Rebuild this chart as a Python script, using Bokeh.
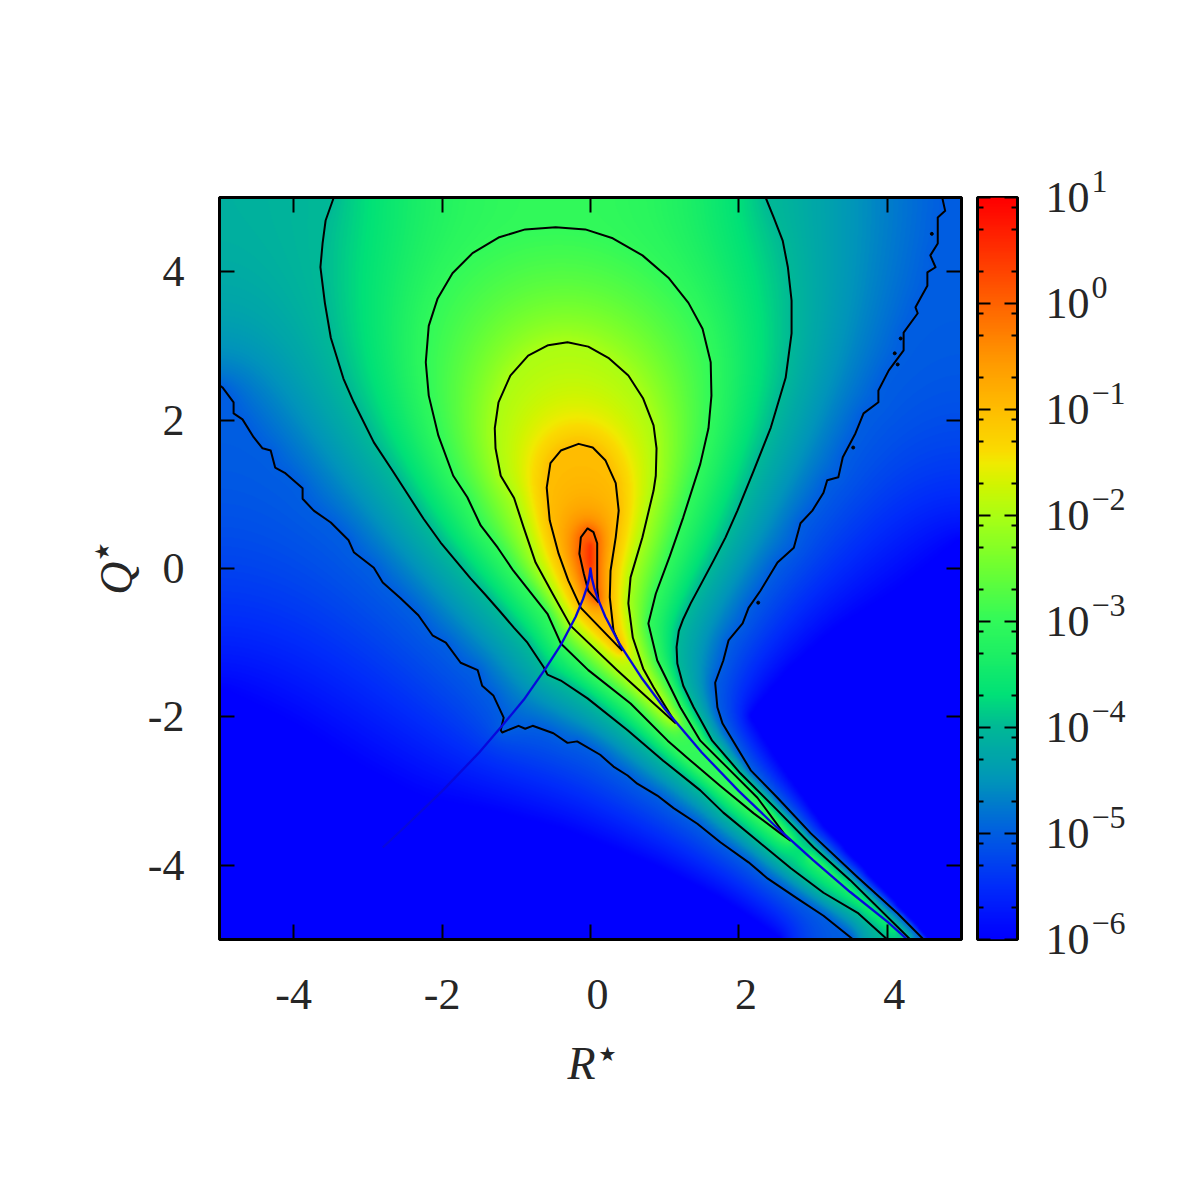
import numpy as np
from bokeh.plotting import figure
from bokeh.layouts import row
from bokeh.models import (LinearAxis, FixedTicker, Range1d, Label, LogColorMapper)
from bokeh.embed import file_html
from bokeh.resources import INLINE

# ---- values: (R*, Q*) along each iso-level curve -----------------------------
level_m5_left_R = [-5.00,-4.96,-4.81,-4.81,-4.69,-4.54,-4.42,-4.31,-4.25,-4.12,-3.88,-3.88,-3.73,-3.50,-3.26,-3.19,-2.92,-2.80,-2.56,-2.32,-2.13,-1.95,-1.75,-1.52,-1.46,-1.31,-1.17,-1.21,-1.19,-0.97,-0.88,-0.78,-0.50,-0.31,-0.18,0.13,0.31,0.50,0.63,0.90,1.12,1.44,1.75,2.13,2.39,2.79,3.14,3.54]
level_m5_left_Q = [2.47,2.44,2.24,2.09,2.01,1.77,1.62,1.59,1.36,1.29,1.08,0.94,0.78,0.62,0.38,0.22,0.01,-0.19,-0.40,-0.63,-0.90,-1.00,-1.27,-1.37,-1.58,-1.71,-2.01,-2.18,-2.21,-2.12,-2.16,-2.12,-2.22,-2.35,-2.33,-2.51,-2.67,-2.79,-2.90,-3.06,-3.23,-3.44,-3.69,-3.96,-4.18,-4.45,-4.68,-5.00]
level_m5_right_R = [4.74,4.78,4.68,4.68,4.68,4.58,4.65,4.54,4.54,4.45,4.38,4.41,4.22,4.22,4.02,3.88,3.88,3.68,3.57,3.40,3.34,3.19,3.14,2.99,2.83,2.74,2.52,2.29,2.13,2.05,1.86,1.79,1.68,1.71,1.78,2.16,2.52,2.97,3.60,4.14,4.49]
level_m5_right_Q = [5.00,4.82,4.73,4.51,4.38,4.22,4.06,3.99,3.81,3.65,3.52,3.44,3.18,2.94,2.67,2.40,2.24,2.09,1.82,1.50,1.23,1.19,1.02,0.78,0.61,0.28,0.08,-0.30,-0.53,-0.74,-0.97,-1.24,-1.54,-1.87,-2.09,-2.72,-3.09,-3.57,-4.16,-4.65,-5.00]
level_m4_left_R = [-3.46,-3.57,-3.61,-3.64,-3.58,-3.50,-3.33,-3.19,-2.92,-2.67,-2.47,-2.25,-2.02,-1.82,-1.62,-1.42,-1.21,-1.03,-0.85,-0.63,-0.58,-0.40,-0.04,0.50,0.98,1.48,1.79,2.25,2.70,3.14,3.60,4.00]
level_m4_left_Q = [5.00,4.69,4.39,4.06,3.58,3.11,2.56,2.24,1.70,1.32,1.01,0.67,0.35,0.11,-0.13,-0.35,-0.59,-0.80,-1.00,-1.33,-1.43,-1.51,-1.75,-2.18,-2.59,-2.99,-3.29,-3.67,-4.04,-4.37,-4.64,-5.00]
level_m4_right_R = [2.36,2.47,2.59,2.66,2.71,2.71,2.63,2.43,2.20,1.98,1.82,1.66,1.50,1.35,1.25,1.19,1.16,1.17,1.25,1.39,1.64,2.02,2.52,3.01,3.50,4.31]
level_m4_right_Q = [5.00,4.73,4.42,4.06,3.61,3.17,2.57,1.90,1.32,0.78,0.42,0.11,-0.19,-0.47,-0.68,-0.84,-1.06,-1.28,-1.58,-1.87,-2.32,-2.76,-3.26,-3.76,-4.20,-5.00]
level_m3_R = [2.70,2.56,2.20,1.75,1.35,1.04,0.54,-0.03,-0.40,-0.58,-1.04,-1.25,-1.48,-1.66,-1.85,-2.05,-2.18,-2.22,-2.18,-2.06,-1.86,-1.59,-1.24,-0.88,-0.47,-0.07,0.30,0.70,1.05,1.32,1.51,1.62,1.63,1.59,1.48,1.25,1.07,0.88,0.78,0.90,1.21,1.48,1.79,2.25,2.65,2.70]
level_m3_Q = [-3.67,-3.57,-3.30,-2.93,-2.59,-2.32,-1.82,-1.37,-1.01,-0.61,-0.03,0.28,0.58,0.96,1.25,1.79,2.33,2.78,3.27,3.64,3.98,4.25,4.46,4.57,4.60,4.57,4.45,4.22,3.92,3.58,3.23,2.78,2.33,1.89,1.41,0.69,0.17,-0.34,-0.74,-1.24,-1.87,-2.32,-2.63,-3.09,-3.63,-3.67]
level_m2_R = [1.15,0.36,-0.27,-0.51,-0.74,-0.90,-1.03,-1.21,-1.28,-1.29,-1.24,-1.08,-0.84,-0.57,-0.31,-0.03,0.24,0.51,0.71,0.85,0.89,0.88,0.85,0.70,0.54,0.51,0.57,0.71,0.85,1.15]
level_m2_Q = [-2.09,-1.37,-0.77,-0.34,0.08,0.55,0.95,1.25,1.62,1.89,2.24,2.60,2.87,3.01,3.05,2.99,2.84,2.60,2.29,1.93,1.62,1.25,1.05,0.42,-0.12,-0.47,-0.93,-1.35,-1.60,-2.09]
level_m1_R = [0.43,-0.13,-0.30,-0.43,-0.55,-0.59,-0.54,-0.40,-0.16,0.03,0.20,0.34,0.38,0.34,0.27,0.26,0.31,0.43]
level_m1_Q = [-1.11,-0.53,-0.16,0.20,0.65,1.09,1.42,1.59,1.68,1.63,1.46,1.15,0.78,0.42,-0.03,-0.39,-0.84,-1.11]
level_0_R = [0.11,-0.03,-0.09,-0.15,-0.13,-0.04,0.04,0.09,0.09,0.09,0.11]
level_0_Q = [-0.46,-0.30,-0.07,0.20,0.42,0.54,0.49,0.34,0.07,-0.26,-0.46]

# isolated specks beside the outer curve
speck_R = [4.60,4.10,3.54,4.18,4.14,2.26]
speck_Q = [4.51,2.90,1.63,3.10,2.75,-0.46]

# the zero-discriminant curve (blue)
tail_R = [-2.80,-2.50,-2.00,-1.50,-1.20,-0.90,-0.60,-0.40,-0.20,-0.10,-0.05,-0.02,0.00,0.02,0.05,0.10,0.20,0.40,0.70,1.00,1.50,2.00,2.50,3.00,3.50,4.00,4.27]
tail_Q = [-3.76,-3.48,-3.00,-2.48,-2.13,-1.77,-1.34,-1.03,-0.65,-0.41,-0.26,-0.14,0.00,-0.14,-0.26,-0.41,-0.65,-1.03,-1.49,-1.89,-2.48,-3.00,-3.48,-3.93,-4.36,-4.76,-5.00]

# estimated outer limit of the coloured region (value 1e-6), lower and right
floor_low_R = [-5.00,-4.04,-3.10,-2.29,-1.48,-0.40,0.81,1.75,2.56]
floor_low_Q = [-1.64,-2.12,-2.72,-3.13,-3.26,-3.53,-4.00,-4.47,-5.00]
floor_right_R = [5.00,4.18,3.30,2.70,2.16,2.60,3.14,3.68,4.22,4.58]
floor_right_Q = [0.38,-0.30,-0.84,-1.37,-1.98,-2.68,-3.44,-4.03,-4.61,-5.00]

# estimated log10 values along the bright ridge past the last closed curve, and at the peak
ridge_R = [2.95,3.60,4.12]
ridge_Q = [-3.88,-4.44,-4.90]
ridge_v = [-3.10,-3.35,-3.60]
peak_R = [-0.01,-0.01,-0.01]
peak_Q = [0.02,0.18,0.32]
peak_v = [0.50,0.55,0.50]

# colour scale
cmap_pos = [-6,-5.5,-5,-4.5,-4,-3.7,-3.3,-3,-2.5,-2,-1.7,-1.5,-1.39,-1,-0.5,0,0.5,1]
cmap_r = [0,0,0,0,0,0,30,50,110,170,210,240,250,255,255,255,255,255]
cmap_g = [0,45,95,150,185,225,240,250,255,255,245,235,220,190,150,100,50,0]
cmap_b = [255,250,225,185,150,120,100,90,50,20,0,0,0,0,0,0,0,0]

major_ticks = [-4,-2,0,2,4]
cbar_decades = [-6,-5,-4,-3,-2,-1,0,1]
cbar_minor_factors = [0.301,0.699,0.903]
cbar_exponents = ["\u22126","\u22125","\u22124","\u22123","\u22122","\u22121","0","1"]

# ---- palette ----------------------------------------------------------------
t = np.linspace(-6, 1, 256)
palette = ["#%02x%02x%02x" % (int(r), int(g), int(b)) for r, g, b in zip(
    np.interp(t, cmap_pos, cmap_r), np.interp(t, cmap_pos, cmap_g), np.interp(t, cmap_pos, cmap_b))]
mapper = LogColorMapper(palette=palette, low=1e-6, high=10)

# ---- field: smooth surface through the curves above --------------------------
curves = [
    (level_m5_left_R, level_m5_left_Q, -5.0), (level_m5_right_R, level_m5_right_Q, -5.0),
    (level_m4_left_R, level_m4_left_Q, -4.0), (level_m4_right_R, level_m4_right_Q, -4.0),
    (level_m3_R, level_m3_Q, -3.0), (level_m2_R, level_m2_Q, -2.0),
    (level_m1_R, level_m1_Q, -1.0), (level_0_R, level_0_Q, 0.0),
    (floor_low_R, floor_low_Q, -6.0), (floor_right_R, floor_right_Q, -6.0),
]

def constraints(N):
    mask = np.zeros((N, N), bool)
    vals = np.zeros((N, N))
    step = 10.0 / (N - 1)
    def put(x, y, v):
        i = np.clip(np.rint((np.asarray(y) + 5) / step).astype(int), 0, N - 1)
        j = np.clip(np.rint((np.asarray(x) + 5) / step).astype(int), 0, N - 1)
        mask[i, j] = True
        vals[i, j] = v
    for R, Q, lev in curves:
        for a in range(len(R) - 1):
            n = int(np.hypot(R[a+1]-R[a], Q[a+1]-Q[a]) / step * 3) + 2
            put(np.linspace(R[a], R[a+1], n), np.linspace(Q[a], Q[a+1], n), lev)
    for R, Q, V in ((ridge_R, ridge_Q, ridge_v), (peak_R, peak_Q, peak_v)):
        for a in range(len(R)):
            put([R[a]], [Q[a]], V[a])
        for a in range(len(R) - 1):
            n = 60
            xs = np.linspace(R[a], R[a+1], n); ys = np.linspace(Q[a], Q[a+1], n); vs = np.linspace(V[a], V[a+1], n)
            for x_, y_, v_ in zip(xs, ys, vs):
                put([x_], [y_], v_)
    return mask, vals

def resample(u, M):
    N = u.shape[0]
    c = np.linspace(0, N - 1, M)
    i0 = np.clip(np.floor(c).astype(int), 0, N - 2)
    f = c - i0
    a = u[i0, :] * (1 - f)[:, None] + u[i0 + 1, :] * f[:, None]
    return a[:, i0] * (1 - f)[None, :] + a[:, i0 + 1] * f[None, :]

u = np.full((47, 47), -5.0)
for N, iters in ((47, 3000), (93, 2000), (186, 1000), (371, 500)):
    if u.shape[0] != N:
        u = resample(u, N)
    mask, vals = constraints(N)
    u[mask] = vals[mask]
    for _ in range(iters):
        g = np.pad(u, 1, mode="edge")
        u = 0.25 * (g[:-2, 1:-1] + g[2:, 1:-1] + g[1:-1, :-2] + g[1:-1, 2:])
        u[mask] = vals[mask]
g = np.pad(u, 1, mode="edge")
u = (4 * u + g[:-2, 1:-1] + g[2:, 1:-1] + g[1:-1, :-2] + g[1:-1, 2:]) / 8
field = 10.0 ** resample(u, 742)

# ---- main panel --------------------------------------------------------------
FONT = "Liberation Serif"
TXT = "#262626"
TICK_FONT = "44px"
p = figure(width=969, height=1169, output_backend="svg", toolbar_location=None,
           x_range=Range1d(-5, 5), y_range=Range1d(-5, 5), x_axis_location=None, y_axis_location=None,
           min_border_left=219, min_border_right=8, min_border_top=197, min_border_bottom=230,
           background_fill_color="white")
p.grid.visible = False
p.outline_line_color = "black"
p.outline_line_width = 3
p.image(image=[field], x=-5, y=-5, dw=10, dh=10, color_mapper=mapper)

def tick_axis(fig, ticks, side, tick_len, minor=None, minor_len=0):
    ax = LinearAxis(ticker=FixedTicker(ticks=ticks, minor_ticks=minor or []))
    ax.axis_line_color = "black"
    ax.axis_line_width = 3
    ax.major_tick_in = tick_len
    ax.major_tick_out = 0
    ax.minor_tick_in = minor_len
    ax.minor_tick_out = 0
    ax.major_tick_line_color = "black"
    ax.major_tick_line_width = 2
    ax.minor_tick_line_color = "black"
    ax.minor_tick_line_width = 2
    ax.major_label_text_font = FONT
    ax.major_label_text_color = TXT
    ax.major_label_text_font_size = TICK_FONT
    fig.add_layout(ax, side)
    return ax

def no_labels(ax, ticks):
    ax.major_label_overrides = {k: "" for k in ticks}
    ax.major_label_text_font_size = "0px"
    ax.major_label_standoff = 0

for side in ("below", "above", "right"):
    no_labels(tick_axis(p, major_ticks, side, 15), major_ticks)

left = tick_axis(p, major_ticks, "left", 15)
left.major_label_standoff = 35
left.major_label_overrides = {k: str(k) for k in major_ticks}
left.major_label_orientation = "horizontal"

# non-negative labels sit a little right of their ticks, negative ones are centred on them
label_shift = 7 / 74.2
p.extra_x_ranges = {"labels": Range1d(-5 - label_shift, 5 - label_shift)}
label_pos = {k: (k - label_shift if k < 0 else k) for k in major_ticks}
xlab = LinearAxis(x_range_name="labels", ticker=FixedTicker(ticks=list(label_pos.values())))
xlab.axis_line_color = None
xlab.major_tick_line_color = None
xlab.minor_tick_line_color = None
xlab.major_tick_in = 0
xlab.major_tick_out = 0
xlab.major_label_standoff = 40
xlab.major_label_text_font = FONT
xlab.major_label_text_color = TXT
xlab.major_label_text_font_size = TICK_FONT
xlab.major_label_overrides = {pos: str(k) for k, pos in label_pos.items()}
p.add_layout(xlab, "below")

for R, Q in ((level_m5_left_R, level_m5_left_Q), (level_m5_right_R, level_m5_right_Q),
             (level_m4_left_R, level_m4_left_Q), (level_m4_right_R, level_m4_right_Q),
             (level_m3_R, level_m3_Q), (level_m2_R, level_m2_Q), (level_m1_R, level_m1_Q), (level_0_R, level_0_Q)):
    p.line(R, Q, line_color="black", line_width=2.0, line_join="round")
p.scatter(speck_R, speck_Q, size=3, color="black")
p.line(tail_R, tail_Q, line_color="#0808dc", line_width=2.3, line_join="round")

# labels live in side panels so that they are not clipped to the frame
p.add_layout(Label(x=-0.12, y=-6.67, text="R", text_font=FONT, text_font_style="italic",
                   text_font_size="46px", text_color=TXT, text_align="center", text_baseline="middle"), "below")
p.add_layout(Label(x=0.23, y=-6.54, text="\u2605", text_font="DejaVu Sans",
                   text_font_size="20px", text_color=TXT, text_align="center", text_baseline="middle"), "below")
p.add_layout(Label(x=-6.39, y=-0.13, text="Q", text_font=FONT, text_font_style="italic", angle=np.pi / 2,
                   text_font_size="46px", text_color=TXT, text_align="center", text_baseline="middle"), "left")
p.add_layout(Label(x=-6.58, y=0.23, text="\u2605", text_font="DejaVu Sans", angle=np.pi / 2,
                   text_font_size="20px", text_color=TXT, text_align="center", text_baseline="middle"), "left")

# ---- colour bar ---------------------------------------------------------------
minor = [d + f for d in cbar_decades[:-1] for f in cbar_minor_factors]
c = figure(width=198, height=1169, output_backend="svg", toolbar_location=None,
           x_range=Range1d(0, 1), y_range=Range1d(-6, 1), x_axis_location=None, y_axis_location=None,
           min_border_left=8, min_border_right=150, min_border_top=197, min_border_bottom=230)
c.grid.visible = False
c.outline_line_color = "black"
c.outline_line_width = 3
grad = 10.0 ** np.linspace(-6, 1, 742).reshape(-1, 1)
c.image(image=[grad], x=0, y=-6, dw=1, dh=7, color_mapper=mapper)
no_labels(tick_axis(c, cbar_decades, "left", 13, minor, 6), cbar_decades)
rax = tick_axis(c, cbar_decades, "right", 13, minor, 6)
rax.major_label_standoff = 28
rax.major_label_overrides = {k: "10" for k in cbar_decades}
rax.major_label_orientation = "horizontal"
for d, e in zip(cbar_decades, cbar_exponents):
    c.add_layout(Label(x=1, y=d, x_offset=74, y_offset=16, text=e, text_font=FONT, text_color=TXT,
                       text_font_size="32px", text_align="left", text_baseline="middle"),
                 "above" if d >= -2 else "below")

layout = row(p, c, spacing=0)
open("out.html", "w").write(file_html(layout, INLINE))
